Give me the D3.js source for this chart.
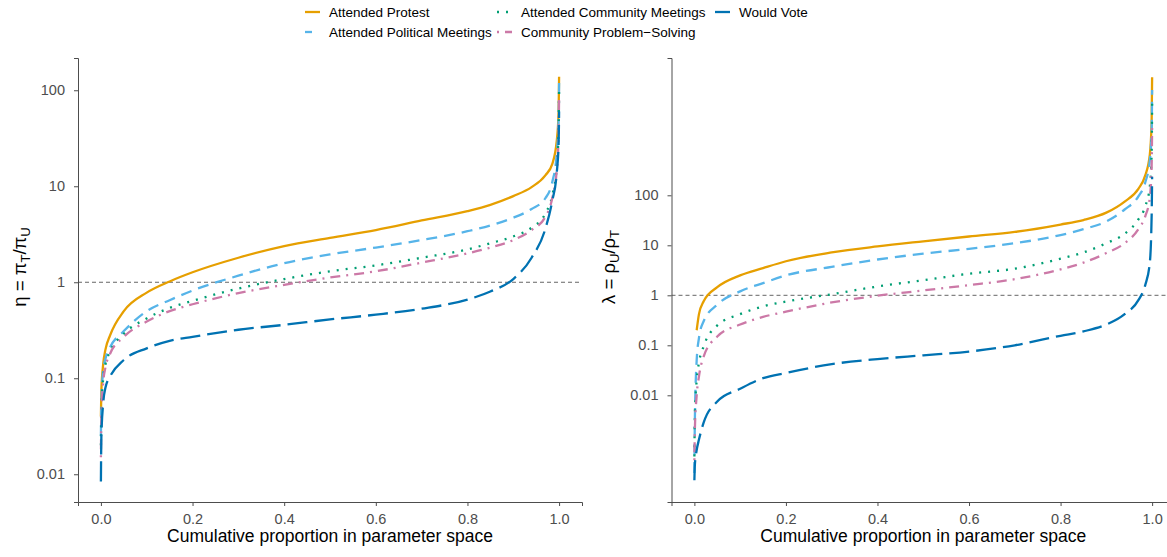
<!DOCTYPE html>
<head>
  <meta charset="utf-8">
  <script src="https://cdnjs.cloudflare.com/ajax/libs/d3/7.8.5/d3.min.js"></script>
  <style>
    body { margin:0; background:#fff; }
    text { font-family: "Liberation Sans", Arial, sans-serif; }
    .tick text { fill:#4d4d4d; font-size:14.5px; }
    .tick line, .domain { stroke:#4d4d4d; }
  </style>
</head>
<body>
<script>
// cumulative proportion in parameter space (shared x positions)
var xs = [0, 0.001, 0.005, 0.01, 0.02, 0.05, 0.1, 0.15, 0.2, 0.3, 0.4, 0.5, 0.6, 0.7, 0.8, 0.85, 0.9, 0.94, 0.97, 0.985, 0.995, 0.999, 1];

var seriesNames = ["Attended Protest", "Attended Political Meetings", "Attended Community Meetings", "Community Problem\u2212Solving", "Would Vote"];

// left panel: eta
var protestL    = [0.04, 0.075, 0.14, 0.2, 0.28, 0.5, 0.78, 1.02, 1.27, 1.8, 2.38, 2.9, 3.5, 4.4, 5.5, 6.4, 7.9, 9.8, 13, 17, 30, 60, 138];
var politicalL  = [0.025, 0.055, 0.12, 0.16, 0.21, 0.31, 0.5, 0.65, 0.82, 1.17, 1.58, 1.95, 2.3, 2.75, 3.4, 3.9, 4.7, 5.8, 7.5, 11, 22, 50, 120];
var communityL  = [0.02, 0.045, 0.1, 0.14, 0.19, 0.29, 0.42, 0.54, 0.64, 0.86, 1.08, 1.3, 1.5, 1.8, 2.2, 2.55, 3.0, 3.7, 5.2, 8, 16, 40, 100];
var problemL    = [0.015, 0.04, 0.09, 0.13, 0.18, 0.27, 0.39, 0.5, 0.59, 0.77, 0.94, 1.12, 1.3, 1.6, 2.0, 2.3, 2.75, 3.5, 4.8, 7.5, 15, 35, 90];
var voteL       = [0.0084, 0.025, 0.055, 0.08, 0.104, 0.155, 0.205, 0.245, 0.27, 0.32, 0.36, 0.41, 0.46, 0.53, 0.66, 0.8, 1.08, 1.8, 3.6, 7, 14, 28, 60];

// right panel: lambda
var protestR    = [null, null, 0.2, 0.42, 0.75, 1.45, 2.5, 3.5, 4.8, 7.2, 9.5, 12, 15, 18.5, 26, 32, 45, 75, 135, 250, 650, 3000, 23000];
var politicalR  = [0.00028, 0.003, 0.05, 0.14, 0.3, 0.65, 1.2, 1.75, 2.5, 3.7, 5.2, 6.8, 8.5, 11, 16, 21, 30, 52, 95, 180, 500, 2000, 12800];
var communityR  = [0.0006, 0.004, 0.02, 0.045, 0.094, 0.25, 0.42, 0.6, 0.75, 1.05, 1.5, 2.0, 2.7, 3.4, 5.4, 7.2, 11, 17, 33, 60, 150, 700, 7000];
var problemR    = [0.0005, 0.002, 0.01, 0.024, 0.059, 0.15, 0.26, 0.37, 0.47, 0.72, 0.98, 1.25, 1.6, 2.1, 3.3, 4.5, 7, 11, 21, 38, 90, 400, 2350];
var voteR       = [0.0002, 0.0004, 0.0008, 0.0013, 0.0028, 0.0075, 0.0135, 0.022, 0.028, 0.042, 0.053, 0.063, 0.075, 0.1, 0.155, 0.19, 0.26, 0.42, 0.8, 1.6, 4.5, 40, 236];

var xTicks = [0, 0.2, 0.4, 0.6, 0.8, 1.0];
var yTicks = [0.01, 0.1, 1, 10, 100];

var colors = ["#E69F00", "#56B4E9", "#009E73", "#CC79A7", "#0072B2"];
var dashes = ["none", "11,7", "2,7", "2,6,10,6", "20,7"];

var W = 1167, H = 557;
var svg = d3.select("body").append("svg").attr("width", W).attr("height", H);

function panel(opts) {
  var x = d3.scaleLinear().domain([-0.05, 1.05]).range([opts.left, opts.right]);
  var y = d3.scaleLog().domain(opts.yDomain).range([502, 58]);

  // reference line at 1
  svg.append("line")
    .attr("x1", opts.left).attr("x2", opts.right)
    .attr("y1", y(1)).attr("y2", y(1))
    .attr("stroke", "#666").attr("stroke-width", 1).attr("stroke-dasharray", "4,3");

  var line = d3.line()
    .defined(function(d) { return d[1] != null; })
    .x(function(d) { return x(d[0]); })
    .y(function(d) { return y(d[1]); })
    .curve(d3.curveMonotoneX);

  opts.series.forEach(function(vals, i) {
    svg.append("path")
      .datum(xs.map(function(v, j) { return [v, vals[j]]; }))
      .attr("fill", "none")
      .attr("stroke", colors[i])
      .attr("stroke-width", 2.3)
      .attr("stroke-dasharray", dashes[i])
      .attr("d", line);
  });

  svg.append("g")
    .attr("transform", "translate(0,502)")
    .call(d3.axisBottom(x).tickValues(xTicks).tickFormat(d3.format(".1f")).tickSizeOuter(0).tickSize(4).tickPadding(8));

  svg.append("g")
    .attr("transform", "translate(" + opts.left + ",0)")
    .call(d3.axisLeft(y).tickValues(yTicks).tickFormat(function(d) { return d3.format("~g")(d); }).tickSizeOuter(0).tickSize(4).tickPadding(9));

  svg.append("text")
    .attr("x", (x(0) + x(1)) / 2).attr("y", 542)
    .attr("text-anchor", "middle").attr("font-size", 17.5).attr("fill", "#000")
    .text("Cumulative proportion in parameter space");

  var t = svg.append("text")
    .attr("transform", "translate(" + opts.titleX + ",267) rotate(-90)")
    .attr("text-anchor", "middle").attr("font-size", 18.5).attr("fill", "#000");
  t.append("tspan").text(opts.sym + " = " + opts.num);
  t.append("tspan").attr("font-size", 13).attr("dy", 4).text(opts.sub1);
  t.append("tspan").attr("dy", -4).text("/" + opts.num);
  t.append("tspan").attr("font-size", 13).attr("dy", 4).text(opts.sub2);
}

panel({ left: 78, right: 582, yDomain: [Math.pow(10, -2.289), Math.pow(10, 2.336)],
        series: [protestL, politicalL, communityL, problemL, voteL],
        titleX: 26, sym: "\u03B7", num: "\u03C0", sub1: "T", sub2: "U" });

panel({ left: 671.5, right: 1175, yDomain: [Math.pow(10, -4.134), Math.pow(10, 4.746)],
        series: [protestR, politicalR, communityR, problemR, voteR],
        titleX: 615, sym: "\u03BB", num: "\u03C1", sub1: "U", sub2: "T" });

// legend
var legendPos = [[305, 12], [305, 32], [497, 12], [497, 32], [715, 12]];
seriesNames.forEach(function(name, i) {
  var g = svg.append("g").attr("transform", "translate(" + legendPos[i][0] + "," + legendPos[i][1] + ")");
  g.append("line").attr("x1", 0).attr("x2", 15).attr("y1", 0).attr("y2", 0)
    .attr("stroke", colors[i]).attr("stroke-width", 2.3)
    .attr("stroke-dasharray", i == 1 ? "7,8" : dashes[i]);
  g.append("text").attr("x", 24).attr("y", 5).attr("font-size", 13.5).attr("fill", "#000").text(name);
});
</script>
</body>
